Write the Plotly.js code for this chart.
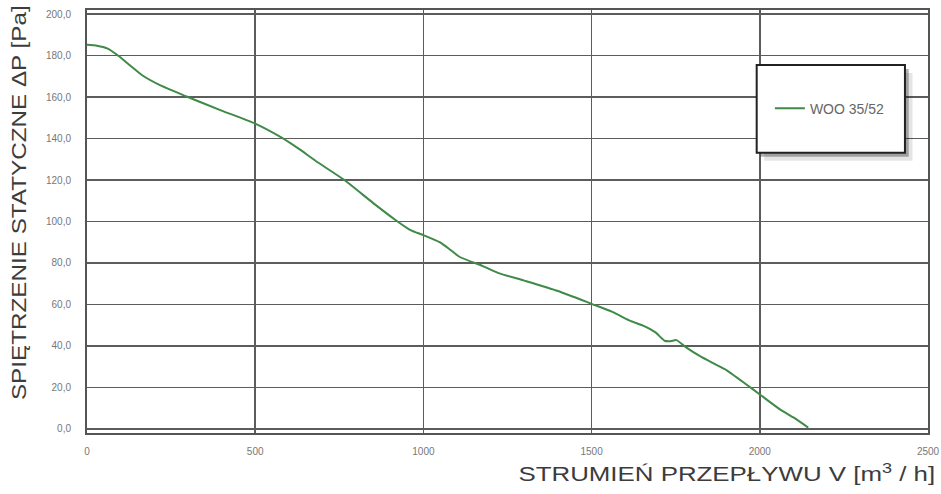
<!DOCTYPE html>
<html>
<head>
<meta charset="utf-8">
<script src="https://cdn.plot.ly/plotly-3.0.1.min.js"></script>
<style>html,body{margin:0;padding:0;background:#fff;}#chart{width:941px;height:494px;}</style>
</head>
<body>
<div id="chart"></div>
<script>
const seriesName = 'WOO 35/52';
const flow = [0, 30, 60, 95, 130, 165, 220, 294, 400, 500, 580, 630, 680, 765, 850, 919, 960, 1000, 1048, 1075, 1107, 1177, 1226, 1300, 1400, 1500, 1560, 1613, 1653, 1690, 1717, 1735, 1752, 1782, 1821, 1860, 1896, 1960, 2000, 2060, 2100, 2144];
const pressure = [185.3, 184.8, 183.5, 179.7, 175, 170.4, 165.5, 160.4, 153.5, 147.2, 140.3, 135, 129.2, 120, 109, 100.5, 96, 93.4, 90, 87, 83, 78.5, 75, 71.5, 66.5, 60.3, 56.5, 52.2, 49.8, 46.5, 42.5, 42.3, 42.8, 39.2, 35.2, 31.8, 28.8, 21.4, 16.6, 9.4, 5.5, 0.6];
const xTicks = [0, 500, 1000, 1500, 2000, 2500];
const yTicks = [0, 20, 40, 60, 80, 100, 120, 140, 160, 180, 200];
const xTitle = 'STRUMIEŃ PRZEPŁYWU V [m<sup>3</sup> / h]';
const yTitle = 'SPIĘTRZENIE STATYCZNE ΔP [Pa]';

const trace = {
  x: flow, y: pressure, type: 'scatter', mode: 'lines', name: seriesName,
  line: {color: '#3f8a48', width: 2, shape: 'spline', smoothing: 0.6}
};

// legend box geometry (paper coords)
const bx0 = 0.7963, bx1 = 0.9726, by0 = 0.6626, by1 = 0.870;
const dx = 0.0045, dy = 0.0095;

const layout = {
  width: 941, height: 494,
  margin: {l: 87, r: 13, t: 10, b: 61},
  paper_bgcolor: '#ffffff', plot_bgcolor: '#ffffff',
  separators: ',.',
  font: {family: 'Liberation Sans, Arial, sans-serif', color: '#555'},
  showlegend: true,
  legend: {
    x: 0.812, y: 0.767, xanchor: 'left', yanchor: 'middle',
    bgcolor: 'rgba(0,0,0,0)', borderwidth: 0,
    font: {size: 14, color: '#666'}
  },
  xaxis: {
    range: [0, 2500], tickvals: xTicks, ticktext: xTicks.map(String),
    showgrid: true, gridcolor: '#5c5c5c', gridwidth: 1.5,
    zeroline: false, showline: true, linecolor: '#555', linewidth: 2, mirror: true,
    ticks: 'outside', ticklen: 8, tickcolor: 'rgba(0,0,0,0)',
    tickfont: {size: 10, color: '#777'}, fixedrange: true
  },
  yaxis: {
    range: [-2, 202], tickvals: yTicks, tickformat: '.1f',
    showgrid: true, gridcolor: '#5c5c5c', gridwidth: 1.5,
    zeroline: false, showline: true, linecolor: '#555', linewidth: 2, mirror: true,
    ticks: 'outside', ticklen: 12, tickcolor: 'rgba(0,0,0,0)',
    tickfont: {size: 10, color: '#777'},
    automargin: false, fixedrange: true
  },
  annotations: [
    {text: xTitle, xref: 'paper', yref: 'paper', x: 1.0103, y: -0.0922,
     xanchor: 'right', yanchor: 'middle', showarrow: false,
     font: {size: 20, color: '#3c3c3c'}},
    {text: yTitle, xref: 'paper', yref: 'paper', x: -0.0803, y: 0.546,
     xanchor: 'center', yanchor: 'middle', showarrow: false, textangle: -90,
     font: {size: 20, color: '#3c3c3c'}}
  ],
  shapes: [
    {type: 'rect', xref: 'paper', yref: 'paper', x0: bx0 + 2*dx, x1: bx1 + 2*dx, y0: by0 - 2*dy, y1: by1 - 2*dy,
     fillcolor: 'rgba(0,0,0,0.10)', line: {width: 0}, layer: 'above'},
    {type: 'rect', xref: 'paper', yref: 'paper', x0: bx0 + dx, x1: bx1 + dx, y0: by0 - dy, y1: by1 - dy,
     fillcolor: 'rgba(0,0,0,0.30)', line: {width: 0}, layer: 'above'},
    {type: 'rect', xref: 'paper', yref: 'paper', x0: bx0, x1: bx1, y0: by0, y1: by1,
     fillcolor: '#ffffff', line: {color: '#222', width: 2}, layer: 'above'}
  ]
};

// stretch a text element along its own direction to a target length
function stretch(textEl, target, anchor) {
  if (!textEl) return;
  const bb = textEl.getBBox();
  if (!bb.width) return;
  const s = target / bb.width;
  const ax = anchor === 'right' ? bb.x + bb.width : bb.x + bb.width / 2;
  const prev = textEl.getAttribute('transform') || '';
  textEl.setAttribute('transform', prev + ' translate(' + ax + ',0) scale(' + s + ',1) translate(' + (-ax) + ',0)');
}

Plotly.newPlot('chart', [trace], layout, {displayModeBar: false, staticPlot: true}).then(function (gd) {
  const anns = gd.querySelectorAll('.annotation');
  anns.forEach(function (a) {
    const idx = a.getAttribute('data-index');
    const t = a.querySelector('text');
    if (idx === '0') stretch(t, 417, 'right');
    if (idx === '1') stretch(t, 395, 'center');
  });
});
</script>
</body>
</html>
